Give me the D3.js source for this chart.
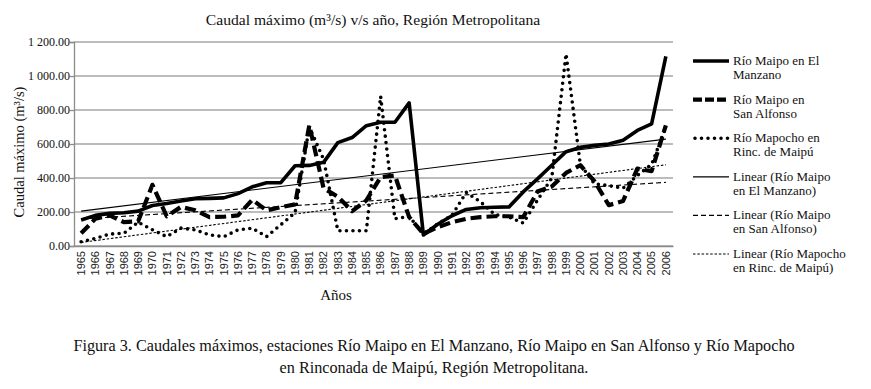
<!DOCTYPE html>
<html>
<head>
<meta charset="utf-8">
<script src="https://cdn.jsdelivr.net/npm/d3@7"></script>
<style>
  body { margin: 0; background: #fff; }
  svg { display: block; }
  .serif { font-family: "Liberation Serif", "DejaVu Serif", serif; fill: #111; }
</style>
</head>
<body>
<script>
const width = 871;
const height = 389;

// data
var years = ["1965","1966","1967","1968","1969","1970","1971","1972","1973","1974","1975","1976","1977","1978",
  "1979","1980","1981","1982","1983","1984","1985","1986","1987","1988","1989","1990","1991","1992",
  "1993","1994","1995","1996","1997","1998","1999","2000","2001","2002","2003","2004","2005","2006"];
var manzano = [153,180,192,196,205,238,250,265,278,280,283,308,348,372,373,472,474,492,608,638,708,728,728,842,
  65,128,178,215,225,228,230,318,395,475,555,580,592,600,622,680,718,1115];
var sanAlfonso = [75,160,180,140,145,360,175,230,210,170,172,180,272,210,228,245,710,340,290,205,268,405,415,170,
  72,110,140,160,170,175,175,170,320,350,430,475,380,240,265,455,440,710];
var mapocho = [25,45,70,75,140,95,55,105,95,65,55,95,105,55,125,195,700,510,90,90,90,880,160,175,
  70,130,180,315,260,185,170,135,270,400,1130,480,365,355,340,415,480,700];
var yTicks = [0, 200, 400, 600, 800, 1000, 1200];
var legendLabels = [
  ["Río Maipo en El", "Manzano"],
  ["Río Maipo en", "San Alfonso"],
  ["Río Mapocho en", "Rinc. de Maipú"],
  ["Linear (Río Maipo", "en El Manzano)"],
  ["Linear (Río Maipo", "en San Alfonso)"],
  ["Linear (Río Mapocho", "en Rinc. de Maipú)"]
];

var svg = d3.select("body")
 .append("svg")
 .attr("width", width)
 .attr("height", height);

var plotLeft = 74, plotRight = 673, plotTop = 42, plotBottom = 246;

var xscale = d3.scaleBand()
 .domain(years)
 .range([plotLeft, plotRight]);

var yscale = d3.scaleLinear()
 .domain([0, 1200])
 .range([plotBottom, plotTop]);

var cx = function(i) { return xscale(years[i]) + xscale.bandwidth() / 2; };

//grid lines
svg.append("g")
 .selectAll("line")
 .data(yTicks)
 .enter().append("line")
 .attr("x1", plotLeft).attr("x2", plotRight)
 .attr("y1", d => yscale(d)).attr("y2", d => yscale(d))
 .attr("stroke", "#a6a6a6")
 .attr("stroke-width", 1.5);

//y axis
var fmt = function(d) {
  var s = d3.format(".2f")(d);
  return d >= 1000 ? s.slice(0, 1) + " " + s.slice(1) : s;
};
var yAxis = svg.append("g")
 .attr("transform", "translate(" + plotLeft + ",0)")
 .call(d3.axisLeft(yscale).tickValues(yTicks).tickSize(4).tickFormat(fmt));
yAxis.selectAll("path, line").attr("stroke", "#8c8c8c").attr("stroke-width", 1.3);
yAxis.selectAll("text")
 .attr("class", "serif")
 .style("font-size", "12px")
 .attr("x", -4);

//x axis
var xAxis = svg.append("g")
 .attr("transform", "translate(0," + plotBottom + ")")
 .call(d3.axisBottom(xscale).tickSize(0).tickSizeOuter(0));
xAxis.select("path").attr("stroke", "#8c8c8c").attr("stroke-width", 1.3);
xAxis.selectAll("text")
 .style("font-family", "'Liberation Sans', Arial, sans-serif")
 .style("font-size", "11px")
 .attr("fill", "#222")
 .attr("transform", "rotate(-90)")
 .attr("text-anchor", "end")
 .attr("x", -5)
 .attr("y", 0)
 .attr("dy", "0.35em");

//series
var seriesList = [
  { values: manzano, width: 3.6, dash: null, cap: "butt" },
  { values: sanAlfonso, width: 4.2, dash: "11,5", cap: "butt" },
  { values: mapocho, width: 3.6, dash: "0,6.5", cap: "round" }
];
var trendStyle = [
  { width: 1.2, dash: null },
  { width: 1.2, dash: "5,3" },
  { width: 1.1, dash: "2.5,1.8" }
];

var line = d3.line()
 .x((d, i) => cx(i))
 .y(d => yscale(d));

//linear trend lines (least squares on the series)
function fit(values) {
  var n = values.length;
  var mx = d3.mean(values, (d, i) => i);
  var my = d3.mean(values);
  var sxy = d3.sum(values, (d, i) => (i - mx) * (d - my));
  var sxx = d3.sum(values, (d, i) => (i - mx) * (i - mx));
  var b = sxy / sxx, a = my - b * mx;
  return [[0, a], [n - 1, a + b * (n - 1)]];
}

seriesList.forEach(function(s, k) {
  var t = fit(s.values);
  svg.append("line")
   .attr("x1", cx(t[0][0])).attr("y1", yscale(t[0][1]))
   .attr("x2", cx(t[1][0])).attr("y2", yscale(t[1][1]))
   .attr("stroke", "#000")
   .attr("stroke-width", trendStyle[k].width)
   .attr("stroke-dasharray", trendStyle[k].dash);
});

seriesList.slice().reverse().forEach(function(s) {
  svg.append("path")
   .datum(s.values)
   .attr("d", line)
   .attr("fill", "none")
   .attr("stroke", "#000")
   .attr("stroke-width", s.width)
   .attr("stroke-linejoin", "round")
   .attr("stroke-linecap", s.cap)
   .attr("stroke-dasharray", s.dash);
});

//title and axis titles
svg.append("text")
 .attr("class", "serif")
 .attr("x", 373).attr("y", 25)
 .attr("text-anchor", "middle")
 .style("font-size", "15.6px")
 .text("Caudal máximo (m³/s) v/s año, Región Metropolitana");

svg.append("text")
 .attr("class", "serif")
 .attr("transform", "translate(24,152) rotate(-90)")
 .attr("text-anchor", "middle")
 .style("font-size", "14.5px")
 .text("Caudal máximo (m³/s)");

svg.append("text")
 .attr("class", "serif")
 .attr("x", 336).attr("y", 300)
 .attr("text-anchor", "middle")
 .style("font-size", "15px")
 .text("Años");

//legend
var legend = svg.append("g").attr("transform", "translate(693,61)");
var legendStyle = seriesList.map(s => ({ width: s.width, dash: s.dash, cap: s.cap }))
 .concat(trendStyle.map(t => ({ width: t.width, dash: t.dash, cap: "butt" })));
legendLabels.forEach(function(lab, k) {
  var g = legend.append("g").attr("transform", "translate(0," + (k * 38.6) + ")");
  g.append("line")
   .attr("x1", k == 2 ? 2 : 0).attr("x2", 36).attr("y1", 0).attr("y2", 0)
   .attr("stroke", "#000")
   .attr("stroke-width", legendStyle[k].width)
   .attr("stroke-linecap", legendStyle[k].cap)
   .attr("stroke-dasharray", k == 1 ? "9,3" : legendStyle[k].dash);
  g.selectAll("text")
   .data(lab)
   .enter().append("text")
   .attr("class", "serif")
   .attr("x", 40)
   .attr("y", (d, j) => 4 + j * 14)
   .style("font-size", "13px")
   .text(d => d);
});

//caption
svg.append("text")
 .attr("class", "serif")
 .attr("x", 434).attr("y", 351)
 .attr("text-anchor", "middle")
 .style("font-size", "16.2px")
 .text("Figura 3. Caudales máximos, estaciones Río Maipo en El Manzano, Río Maipo en San Alfonso y Río Mapocho");
svg.append("text")
 .attr("class", "serif")
 .attr("x", 434).attr("y", 373)
 .attr("text-anchor", "middle")
 .style("font-size", "16.2px")
 .text("en Rinconada de Maipú, Región Metropolitana.");
</script>
</body>
</html>
